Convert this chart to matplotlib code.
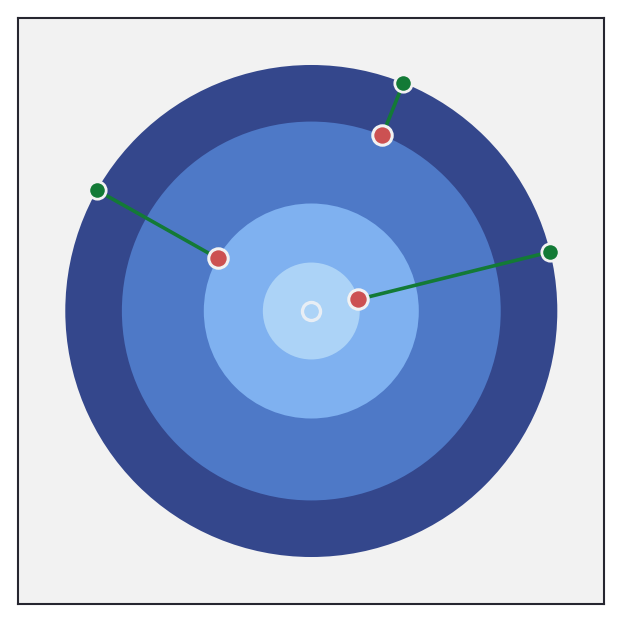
import numpy as np
import matplotlib
matplotlib.use("Agg")
import matplotlib.pyplot as plt
from matplotlib.patches import Circle

# ring radii (outer -> inner) and their colours
radii = [1.0, 0.77, 0.437, 0.197]
ring_colors = ["#34478c", "#4e79c7", "#7fb1f0", "#acd3f7"]

# spokes: angle in degrees, outer point on the rim, inner point on a ring
angles = [150.6, 68.0, 13.9]
outer_r = [1.0, 1.0, 1.0]
inner_r = [0.437, 0.77, 0.197]

bg = "#f2f2f2"
green = "#137a36"
red = "#cc5152"

fig = plt.figure(figsize=(6.23, 6.23), dpi=100)
ax = fig.add_axes([18.3/623, 19/623, 586/623, 586/623])
ax.set_facecolor(bg)

for r, c in zip(radii, ring_colors):
    ax.add_patch(Circle((0, 0), r, facecolor=c, edgecolor="none", zorder=1))

th = np.radians(angles)
xo = np.array(outer_r)*np.cos(th)
yo = np.array(outer_r)*np.sin(th)
xi = np.array(inner_r)*np.cos(th)
yi = np.array(inner_r)*np.sin(th)

for i in range(len(angles)):
    ax.plot([xo[i], xi[i]], [yo[i], yi[i]], color=green, lw=2.6, zorder=2,
            solid_capstyle="butt")
ax.plot(xo, yo, 'o', ms=12.5, mfc=green, mec=bg, mew=2.0, ls="none", zorder=3)
ax.plot(xi, yi, 'o', ms=14, mfc=red, mec=bg, mew=2.2, ls="none", zorder=3)
ax.plot([0], [0], 'o', ms=13, mfc="none", mec="#e8eef5", mew=2.4, zorder=3)

lim = 1.191
ax.set_xlim(-lim, lim)
ax.set_ylim(-lim, lim)
ax.set_aspect("equal")
ax.set_xticks([])
ax.set_yticks([])
for s in ax.spines.values():
    s.set_color("#262630")
    s.set_linewidth(1.5)

fig.savefig("out.png", dpi=100)
